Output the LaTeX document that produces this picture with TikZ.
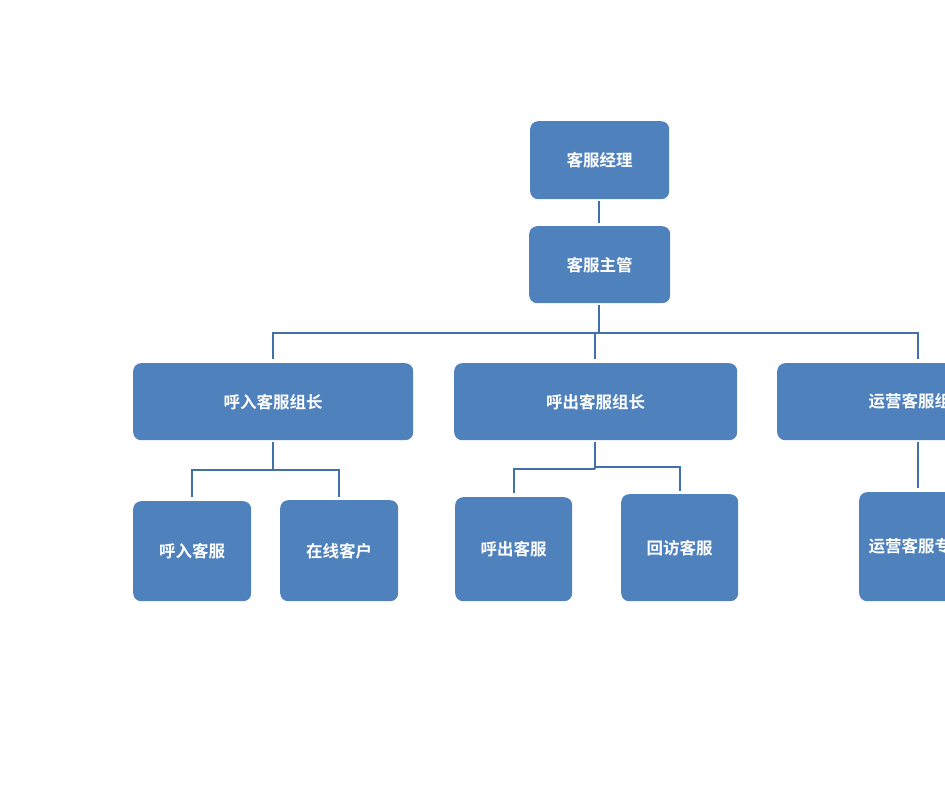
\documentclass[tikz,border=0pt]{standalone}
\usepackage{fontspec}
\newfontfamily\cjk[BoldFont={Noto Sans CJK SC Bold}]{Noto Sans CJK SC}
\definecolor{boxblue}{HTML}{4F81BD}
\definecolor{linkblue}{HTML}{4270AA}
\begin{document}
\begin{tikzpicture}[x=1pt,y=-1pt,
  box/.style={fill=boxblue,draw=none,rounded corners=8pt,text=white,font=\cjk\bfseries\fontsize{16.5}{19}\selectfont,inner sep=0pt,anchor=north west},
  link/.style={draw=linkblue,line width=2.8pt}]
\useasboundingbox (0,0) rectangle (945,794);
\clip (0,0) rectangle (945,794);
% level 1
\node[box,minimum width=139pt,minimum height=78pt] (mgr) at (530,121) {客服经理};
\node[box,minimum width=141pt,minimum height=77pt] (sup) at (529,226) {客服主管};
% level 2
\node[box,minimum width=280pt,minimum height=77pt] (inL) at (133,363) {呼入客服组长};
\node[box,minimum width=283pt,minimum height=77pt] (outL) at (454,363) {呼出客服组长};
\node[box,minimum width=282pt,minimum height=77pt] (opL) at (777,363) {运营客服组长};
% level 3
\node[box,minimum width=118pt,minimum height=100pt] (inS) at (133,501) {呼入客服};
\node[box,minimum width=118pt,minimum height=101pt] (onS) at (280,500) {在线客户};
\node[box,minimum width=117pt,minimum height=104pt] (outS) at (455,497) {呼出客服};
\node[box,minimum width=117pt,minimum height=107pt] (visS) at (621,494) {回访客服};
\node[box,minimum width=118pt,minimum height=109pt] (opS) at (859,492) {运营客服专员};
% coordinates for connector ends
\coordinate (bus) at (599,333);
\coordinate (busL) at (273,333);
\coordinate (busR) at (918,333);
\coordinate (busM) at (595,333);
% connectors
\draw[link] ([yshift=-2pt]mgr.south -| bus) -- ([yshift=3pt]sup.north -| bus);
\draw[link] ([yshift=-2pt]sup.south -| bus) -- (bus);
\draw[link,line join=miter] ([yshift=4pt]inL.north -| busL) -- (busL) -- (busR) -- ([yshift=4pt]opL.north -| busR);
\draw[link] (busM) -- ([yshift=4pt]outL.north -| busM);
% group 1
\draw[link] ([yshift=-2pt]inL.south -| busL) -- (273,470);
\draw[link] ([yshift=4pt]inS.north -| 192,0) -- (192,470) -- (339,470) -- ([yshift=3pt]onS.north -| 339,0);
% group 2
\draw[link] ([yshift=-2pt]outL.south -| 595,0) -- (595,469);
\draw[link] ([yshift=4pt]outS.north -| 514,0) -- (514,469) -- (595,469);
\draw[link] (595,467) -- (680,467) -- ([yshift=3pt]visS.north -| 680,0);
% group 3
\draw[link] ([yshift=-2pt]opL.south -| 918,0) -- ([yshift=4pt]opS.north -| 918,0);
\end{tikzpicture}
\end{document}
